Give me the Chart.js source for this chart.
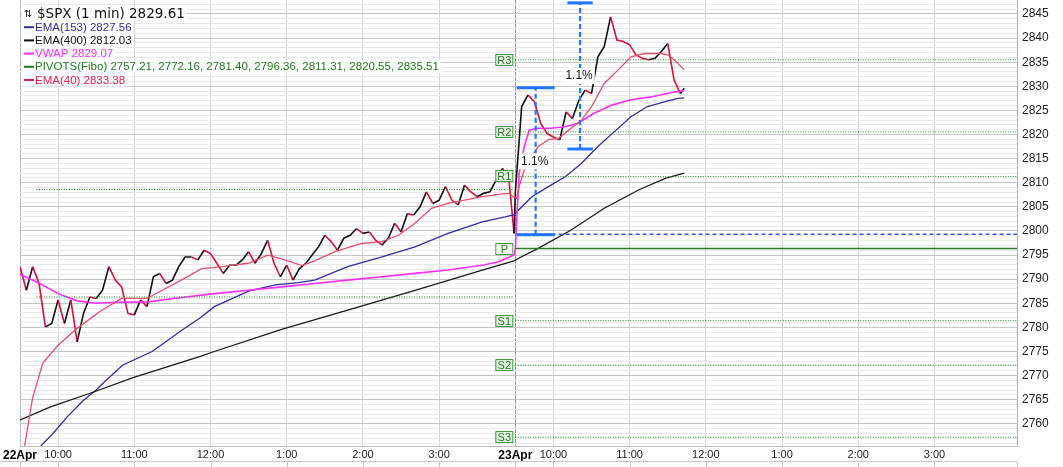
<!DOCTYPE html>
<html>
<head>
<meta charset="utf-8">
<script src="https://cdn.jsdelivr.net/npm/chart.js@4.4.1/dist/chart.umd.min.js"></script>
<style>
  html, body { margin: 0; padding: 0; background: #fff; }
  canvas { display: block; }
</style>
</head>
<body>
<canvas id="chart" width="1063" height="467"></canvas>
<script>
// sessions / time axis
const sessions = ['22Apr', '23Apr'];
const sessionMinutes = 390;            // 9:30 - 16:00
const hourTimes  = ['10:00', '11:00', '12:00', '13:00', '14:00', '15:00'];
const hourLabels = ['10:00', '11:00', '12:00', '1:00', '2:00', '3:00'];
const axisEnd = '23Apr 16:05';

// price axis
const priceMin = 2755.4, priceMax = 2847.9;
const priceLabels = [2760, 2765, 2770, 2775, 2780, 2785, 2790, 2795, 2800, 2805, 2810, 2815, 2820, 2825, 2830, 2835, 2840, 2845];

// $SPX 1 min, read every 5 minutes
const priceStep = 5;
const day1Close = [
  2792.6, 2787.7, 2792.6, 2789.1, 2780.1, 2780.8, 2785.7, 2780.8, 2785.7, 2777.0,
  2782.9, 2786.3, 2786.0, 2787.7, 2792.6, 2789.8, 2788.4, 2782.9, 2782.6, 2785.7,
  2784.3, 2790.5, 2791.2, 2789.1, 2789.8, 2792.6, 2794.6, 2794.6, 2794.0, 2796.0,
  2795.3, 2793.3, 2791.2, 2792.9, 2792.9, 2794.0, 2795.7, 2793.3, 2795.3, 2798.1,
  2793.3, 2790.5, 2792.9, 2789.8, 2792.2, 2793.3, 2795.0, 2796.7, 2799.1, 2797.8,
  2796.0, 2798.5, 2799.1, 2800.5, 2799.5, 2799.8, 2798.1, 2797.1, 2798.5, 2801.6,
  2799.8, 2803.6, 2803.3, 2805.0, 2808.1, 2805.7, 2806.4, 2809.2, 2806.4, 2805.4,
  2809.5, 2808.1, 2807.1, 2807.8, 2808.1, 2810.6, 2813.0, 2810.6
];
const day1Last = 2799.5;
const day2Close = [
  2808.0, 2825.8, 2828.2, 2826.8, 2822.3, 2820.2, 2819.5, 2818.9, 2824.7, 2823.3,
  2827.1, 2829.2, 2828.5, 2836.1, 2838.2, 2844.4, 2839.6, 2839.3, 2838.6, 2836.5,
  2835.8, 2835.5, 2835.8, 2837.2, 2838.9, 2831.3, 2828.5
];
const lastTime = '23Apr 11:43';
const lastPrice = 2829.61;

// EMA(40)
const ema40Time = ['22Apr 9:32','22Apr 9:34','22Apr 9:40','22Apr 9:48','22Apr 10:00','22Apr 10:15','22Apr 10:33','22Apr 10:50','22Apr 11:10','22Apr 11:37','22Apr 11:53','22Apr 12:09','22Apr 12:30','22Apr 12:45','22Apr 12:56','22Apr 13:12','22Apr 13:22','22Apr 13:38','22Apr 13:59','22Apr 14:15','22Apr 14:28','22Apr 14:41','22Apr 14:54','22Apr 15:07','22Apr 15:20','22Apr 15:34','22Apr 15:47','22Apr 15:55','22Apr 15:59',
  '23Apr 9:31','23Apr 9:33','23Apr 9:37','23Apr 9:43','23Apr 9:48','23Apr 9:56','23Apr 10:04','23Apr 10:14','23Apr 10:22','23Apr 10:30','23Apr 10:40','23Apr 10:51','23Apr 11:01','23Apr 11:12','23Apr 11:25','23Apr 11:30','23Apr 11:35','23Apr 11:43'];
const ema40 = [2752.0, 2756.0, 2765.5, 2772.6, 2776.3, 2779.8, 2783.3, 2786.0, 2786.0, 2789.8, 2792.2, 2792.6, 2793.3, 2795.0, 2794.2, 2792.8, 2793.8, 2795.7, 2797.4, 2797.8, 2799.1, 2801.6, 2804.7, 2805.7, 2806.4, 2807.1, 2807.6, 2807.8, 2807.0,
  2806.8, 2809.2, 2812.6, 2815.4, 2817.5, 2818.9, 2819.2, 2821.3, 2823.0, 2825.8, 2830.6, 2833.4, 2836.1, 2836.8, 2836.8, 2836.5, 2835.5, 2833.4];

// EMA(153)
const ema153Time = ['22Apr 9:40','22Apr 9:47','22Apr 9:56','22Apr 10:07','22Apr 10:20','22Apr 10:30','22Apr 10:38','22Apr 10:51','22Apr 11:14','22Apr 11:38','22Apr 11:52','22Apr 12:03','22Apr 12:30','22Apr 12:51','22Apr 13:09','22Apr 13:22','22Apr 13:48','22Apr 14:15','22Apr 14:41','22Apr 15:07','22Apr 15:34','22Apr 15:52','22Apr 15:59',
  '23Apr 9:43','23Apr 9:56','23Apr 10:09','23Apr 10:22','23Apr 10:35','23Apr 10:48','23Apr 11:01','23Apr 11:14','23Apr 11:28','23Apr 11:38','23Apr 11:43'];
const ema153 = [2752.0, 2755.6, 2758.0, 2761.4, 2764.9, 2767.0, 2769.1, 2772.2, 2775.0, 2779.5, 2782.0, 2784.3, 2787.5, 2788.8, 2789.3, 2789.8, 2792.6, 2794.6, 2796.7, 2799.5, 2801.9, 2802.9, 2803.4,
  2807.1, 2809.2, 2811.2, 2814.0, 2817.5, 2820.6, 2823.7, 2825.8, 2826.8, 2827.5, 2827.6];

// EMA(400)
const ema400Time = ['22Apr 9:30','22Apr 9:54','22Apr 10:28','22Apr 10:59','22Apr 11:52','22Apr 12:03','22Apr 12:56','22Apr 13:48','22Apr 14:41','22Apr 15:34','22Apr 15:59',
  '23Apr 9:33','23Apr 9:48','23Apr 10:14','23Apr 10:40','23Apr 11:07','23Apr 11:28','23Apr 11:43'];
const ema400 = [2760.8, 2763.5, 2766.6, 2769.6, 2774.0, 2775.0, 2779.6, 2783.6, 2787.7, 2791.9, 2793.8,
  2794.4, 2796.4, 2800.2, 2804.7, 2808.5, 2810.9, 2812.0];

// VWAP
const vwapTime = ['22Apr 9:30','22Apr 9:45','22Apr 10:00','22Apr 10:15','22Apr 10:30','22Apr 10:45','22Apr 11:11','22Apr 11:37','22Apr 12:03','22Apr 12:30','22Apr 12:56','22Apr 13:22','22Apr 13:48','22Apr 14:15','22Apr 14:41','22Apr 15:07','22Apr 15:34','22Apr 15:47','22Apr 15:59',
  '23Apr 9:30','23Apr 9:33','23Apr 9:37','23Apr 9:41','23Apr 9:48','23Apr 9:58','23Apr 10:09','23Apr 10:19','23Apr 10:32','23Apr 10:46','23Apr 11:01','23Apr 11:17','23Apr 11:33','23Apr 11:43'];
const vwap = [2791.0, 2789.2, 2787.0, 2785.5, 2785.0, 2785.2, 2785.3, 2786.2, 2787.0, 2787.7, 2788.4, 2789.1, 2789.8, 2790.5, 2791.2, 2791.9, 2792.9, 2793.6, 2795.0,
  2796.4, 2811.9, 2817.5, 2820.9, 2821.3, 2821.3, 2821.6, 2822.3, 2824.4, 2826.1, 2827.2, 2827.8, 2828.7, 2829.1];

// PIVOTS(Fibo)
const pivotNames  = ['S3', 'S2', 'S1', 'P', 'R1', 'R2', 'R3'];
const pivotValues = [2757.21, 2772.16, 2781.40, 2796.36, 2811.31, 2820.55, 2835.51];
const prevPivotValues = [2786.3, 2808.6];
const prevPivotSpan = ['22Apr 9:43', '22Apr 15:59'];

// measure tool (price moves)
const measureLow  = [2799.2, 2817.0];
const measureHigh = [2829.7, 2847.3];
const measureFrom = ['23Apr 9:31', '23Apr 10:11'];
const measureAt   = ['23Apr 9:46', '23Apr 10:21'];
const measureTo   = ['23Apr 10:01', '23Apr 10:31'];
const refLine = 2799.3;

// ---- helpers
const t = s => {
  const [d, hm] = s.split(' ');
  const [h, m] = hm.split(':').map(Number);
  return sessions.indexOf(d) * sessionMinutes + h * 60 + m - 570;
};
const pts = (times, vals) => vals.map((v, i) => ({ x: t(times[i]), y: v }));
const xMax = t(axisEnd);

const pricePts = [
  ...day1Close.map((v, i) => ({ x: i * priceStep, y: v })),
  { x: t('22Apr 15:59'), y: day1Last },
  ...day2Close.map((v, i) => ({ x: sessionMinutes + i * priceStep, y: v })),
  { x: t(lastTime), y: lastPrice }
];

const GREEN = '#1f861f';
const BLUE = '#1f78ff';

const line = (data, color, width, order, extra = {}) => ({
  data, borderColor: color, borderWidth: width, pointRadius: 0, tension: 0, order, ...extra
});

const datasets = [
  line(pricePts, '#111', 1.6, 30, {
    segment: { borderColor: c => c.p1.parsed.y < c.p0.parsed.y ? '#d4103c' : '#111' }
  }),
  line(pts(ema153Time, ema153), '#2e2e9e', 1.3, 25),
  line(pts(ema400Time, ema400), '#1a1a1a', 1.3, 24),
  line(pts(vwapTime, vwap), '#ff2cff', 1.6, 23),
];
pivotValues.forEach((v, i) => {
  const isP = pivotNames[i] === 'P';
  datasets.push(line([{ x: sessionMinutes, y: v }, { x: xMax, y: v }], isP ? '#2a7d2a' : GREEN,
    isP ? 1.6 : 1, 22, isP ? {} : { borderDash: [1, 1.5] }));
});
prevPivotValues.forEach(v => {
  datasets.push(line([{ x: t(prevPivotSpan[0]), y: v }, { x: t(prevPivotSpan[1]), y: v }], GREEN, 1, 22, { borderDash: [1, 1.5] }));
});
datasets.push(line(pts(ema40Time, ema40), '#e2506c', 1.3, 21));
datasets.push(line([{ x: t(measureFrom[0]), y: refLine }, { x: xMax, y: refLine }], '#3d55ff', 1.5, 5, { borderDash: [4, 3] }));
measureLow.forEach((lo, i) => {
  const hi = measureHigh[i];
  const a = t(measureFrom[i]), b = t(measureTo[i]), m = t(measureAt[i]);
  datasets.push(line([{ x: a, y: lo }, { x: b, y: lo }], BLUE, 3, 4));
  datasets.push(line([{ x: a, y: hi }, { x: b, y: hi }], BLUE, 3, 4));
  datasets.push(line([{ x: m, y: lo }, { x: m, y: hi }], BLUE, 2.2, 4, { borderDash: [5, 3] }));
});

const legendRows = [
  { text: '$SPX (1 min) 2829.61', color: '#111', font: '13.5px "DejaVu Sans"', icon: true },
  { text: 'EMA(153) 2827.56', color: '#2e2e9e' },
  { text: 'EMA(400) 2812.03', color: '#111' },
  { text: 'VWAP 2829.07', color: '#ff2cff' },
  { text: 'PIVOTS(Fibo) 2757.21, 2772.16, 2781.40, 2796.36, 2811.31, 2820.55, 2835.51', color: '#1f7a1f' },
  { text: 'EMA(40) 2833.38', color: '#e0204c' },
];

const overlay = {
  id: 'overlay',
  afterDatasetsDraw(chart) {
    const { ctx, scales: { x, y } } = chart;
    ctx.save();
    // pivot tags
    const xr = x.getPixelForValue(sessionMinutes) - 2;
    ctx.font = '11px "Liberation Sans"';
    ctx.textAlign = 'center';
    ctx.textBaseline = 'middle';
    pivotValues.forEach((v, i) => {
      const py = Math.round(y.getPixelForValue(v));
      const isP = pivotNames[i] === 'P';
      ctx.fillStyle = isP ? '#fff' : '#e4f2e4';
      ctx.fillRect(xr - 18, py - 6, 18, 12);
      ctx.strokeStyle = '#3f9a3f';
      ctx.lineWidth = 1;
      ctx.strokeRect(xr - 17.5, py - 5.5, 17, 11);
      ctx.fillStyle = '#237a23';
      ctx.fillText(pivotNames[i], xr - 9, py + 0.5);
    });
    // measure labels
    ctx.font = '12px "Liberation Sans"';
    measureLow.forEach((lo, i) => {
      const hi = measureHigh[i];
      const txt = ((hi / lo - 1) * 100).toFixed(1) + '%';
      const px = x.getPixelForValue(t(measureAt[i])) - 1;
      const py = y.getPixelForValue((lo + hi) / 2);
      const w = ctx.measureText(txt).width;
      ctx.fillStyle = '#fff';
      ctx.fillRect(px - w / 2 - 2, py - 8, w + 4, 16);
      ctx.fillStyle = '#111';
      ctx.fillText(txt, px, py);
    });
    ctx.restore();
  },
  afterDraw(chart) {
    const { ctx, scales: { x }, chartArea: a } = chart;
    ctx.save();
    // top of the next panel
    ctx.strokeStyle = '#c8c8c8';
    ctx.lineWidth = 1;
    ctx.beginPath();
    ctx.moveTo(0, 461.5); ctx.lineTo(a.right, 461.5);
    x.ticks.forEach(tk => {
      const px = Math.round(x.getPixelForValue(tk.value)) + 0.5;
      ctx.moveTo(px, 462); ctx.lineTo(px, 467);
    });
    ctx.moveTo(a.right + 0.5, 462); ctx.lineTo(a.right + 0.5, 467);
    ctx.stroke();
    // legend
    ctx.textAlign = 'left';
    ctx.textBaseline = 'middle';
    legendRows.forEach((r, i) => {
      const ry = 14 + i * 13.2;
      ctx.font = r.font || '11.5px "Liberation Sans"';
      const tx0 = r.icon ? 37 : 35;
      const w = ctx.measureText(r.text).width;
      ctx.fillStyle = '#fff';
      ctx.fillRect(22, ry - 6.5, tx0 - 22 + w + 2, 13);
      if (r.icon) {
        ctx.fillStyle = '#111';
        ctx.font = '10px "DejaVu Sans"';
        ctx.fillText('⇅', 24, ry);
        ctx.font = r.font;
      } else {
        ctx.fillStyle = r.color;
        ctx.fillRect(24, ry - 1, 10, 2);
      }
      ctx.fillStyle = r.color;
      ctx.fillText(r.text, tx0, ry + 0.5);
    });
    ctx.restore();
  }
};

const tickValues = [];
sessions.forEach((d, i) => {
  tickValues.push(i * sessionMinutes);
  hourTimes.forEach(h => tickValues.push(t(d + ' ' + h)));
});
const tickLabel = v => {
  if (v % sessionMinutes === 0) return sessions[v / sessionMinutes] || '';
  const k = hourTimes.findIndex(h => t(sessions[0] + ' ' + h) === v % sessionMinutes);
  return k >= 0 ? hourLabels[k] : '';
};

new Chart(document.getElementById('chart'), {
  type: 'line',
  data: { datasets },
  plugins: [overlay],
  options: {
    responsive: false,
    animation: false,
    events: [],
    layout: { padding: { left: 20, top: 0, right: 0, bottom: 0 } },
    plugins: { legend: { display: false }, tooltip: { enabled: false } },
    scales: {
      x: {
        type: 'linear', min: 0, max: xMax,
        afterBuildTicks: s => { s.ticks = tickValues.map(v => ({ value: v })); },
        afterFit: s => { s.height = 21; s.paddingLeft = 0; s.paddingRight = 0; },
        grid: {
          drawTicks: false,
          color: c => c.tick && c.tick.value === sessionMinutes ? '#9a9a9a' : (c.tick && c.tick.value === 0 ? '#b4b4b4' : '#d2d2d2')
        },
        border: { color: '#bdbdbd' },
        ticks: {
          autoSkip: false, maxRotation: 0, padding: 2,
          color: c => c.tick && c.tick.value % sessionMinutes === 0 ? '#000' : '#222',
          font: c => (c.tick && c.tick.value % sessionMinutes === 0)
            ? { family: 'Liberation Sans', size: 12, weight: 'bold' }
            : { family: 'Liberation Sans', size: 11 },
          callback: v => tickLabel(v)
        }
      },
      y: {
        position: 'right', min: priceMin, max: priceMax,
        afterBuildTicks: s => {
          const ticks = [];
          for (let v = Math.ceil(priceMin); v <= priceMax; v++) ticks.push({ value: v });
          s.ticks = ticks;
        },
        afterFit: s => { s.width = 46; s.paddingTop = 0; s.paddingBottom = 0; },
        grid: {
          drawTicks: false,
          color: c => c.tick && c.tick.value % 5 === 0 ? '#c6c6c6' : '#e9e9e9'
        },
        border: { color: '#b0b0b0' },
        ticks: {
          autoSkip: false, padding: 5, color: '#222',
          font: { family: 'Liberation Sans', size: 12 },
          callback: v => priceLabels.includes(v) ? String(v) : ''
        }
      }
    }
  }
});
</script>
</body>
</html>
